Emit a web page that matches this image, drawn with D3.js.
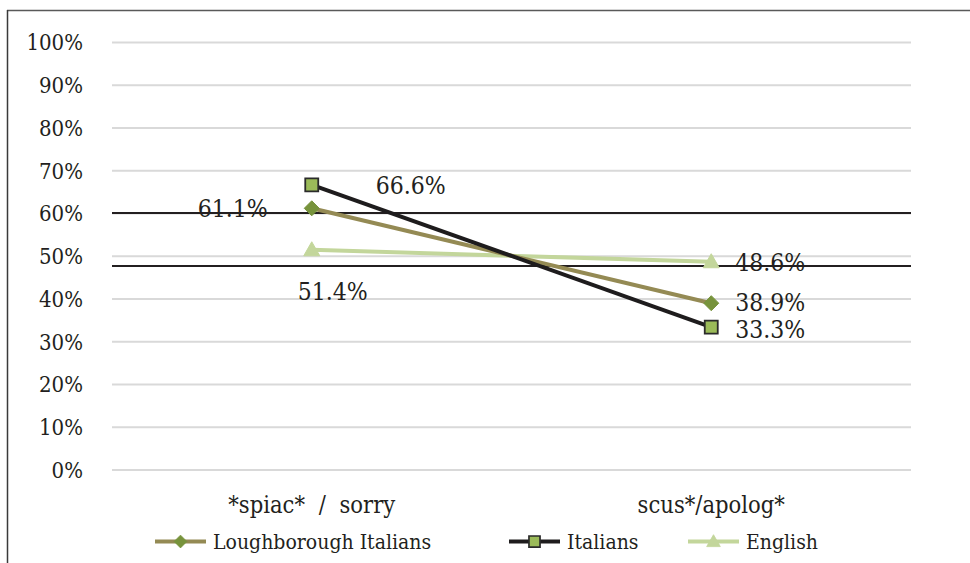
<!DOCTYPE html>
<html><head><meta charset="utf-8">
<script src="https://cdn.jsdelivr.net/npm/d3@7"></script>
<style>
html,body{margin:0;padding:0;background:#fff;}
svg{display:block;}
</style></head>
<body>
<svg id="chart" width="970" height="563"></svg>
<script>
// ---- data ----
const categories = ["*spiac* / sorry", "scus*/apolog*"];
const seriesNames = ["Loughborough Italians", "Italians", "English"];
const loughboroughItalians = [61.1, 38.9];
const italians = [66.6, 33.3];
const english = [51.4, 48.6];
const labelTexts = {
  "Loughborough Italians": ["61.1%", "38.9%"],
  "Italians": ["66.6%", "33.3%"],
  "English": ["51.4%", "48.6%"]
};
const yTicks = [0, 10, 20, 30, 40, 50, 60, 70, 80, 90, 100];
const referenceLines = [60, 47.6];

// ---- layout ----
const FONT = '"DejaVu Serif Condensed","DejaVu Serif",serif';
const svg = d3.select("#chart");
function styleText(sel, size) {
  return sel.style("font-family", FONT).style("font-stretch", "condensed")
    .attr("font-size", size).attr("fill", "#231f20");
}
const plot = {left: 112, right: 911, top: 42, bottom: 469.5};
const x = d3.scaleBand().domain(categories).range([plot.left, plot.right]).padding(0);
const cx = c => x(c) + x.bandwidth() / 2;
const y = d3.scaleLinear().domain([0, 100]).range([plot.bottom, plot.top]);

// frame (top & left, clipped)
svg.append("line").attr("x1", 7).attr("x2", 970).attr("y1", 10.5).attr("y2", 10.5)
  .attr("stroke", "#595959").attr("stroke-width", 1.5);
svg.append("line").attr("x1", 7.5).attr("x2", 7.5).attr("y1", 10).attr("y2", 563)
  .attr("stroke", "#3a3a3a").attr("stroke-width", 1.5);

// gridlines + y tick labels
const yAxis = d3.axisLeft(y).tickValues(yTicks).tickSize(-(plot.right - plot.left))
  .tickFormat(d => d + "%").tickPadding(29);
const gAxis = svg.append("g").attr("transform", `translate(${plot.left},0)`).call(yAxis);
gAxis.select(".domain").remove();
gAxis.selectAll(".tick line").attr("stroke", "#d9d9d9").attr("stroke-width", 2);
styleText(gAxis.selectAll(".tick text"), 22).attr("dy", "0.36em");

// reference black lines
svg.selectAll(".ref").data(referenceLines).enter().append("line")
  .attr("x1", plot.left).attr("x2", plot.right)
  .attr("y1", d => y(d)).attr("y2", d => y(d))
  .attr("stroke", "#231f20").attr("stroke-width", 2);

// category labels
styleText(svg.selectAll(".cat").data(categories).enter().append("text")
  .attr("x", d => cx(d)).attr("y", 513).attr("text-anchor", "middle")
  .attr("word-spacing", 7)
  .text(d => d), 23.5);

// series
const series = [
  {name: "Loughborough Italians", values: loughboroughItalians, line: "#948a54", marker: "diamond", mfill: "#77933c", mstroke: "#77933c"},
  {name: "Italians", values: italians, line: "#1e1c1d", marker: "square", mfill: "#9bbb59", mstroke: "#2b2b2b"},
  {name: "English", values: english, line: "#c3d69b", marker: "triangle", mfill: "#c3d69b", mstroke: "#c3d69b"}
];
const lineGen = d3.line().x((d, i) => cx(categories[i])).y(d => y(d));

function markerPath(type) {
  if (type === "diamond") return "M0,-7.5L7.5,0L0,7.5L-7.5,0Z";
  if (type === "square") return "M-6.5,-6.5H6.5V6.5H-6.5Z";
  return "M0,-8L8,6H-8Z";
}

const order = ["English", "Loughborough Italians", "Italians"];
order.forEach(n => {
  const s = series.find(d => d.name === n);
  svg.append("path").datum(s.values).attr("d", lineGen)
    .attr("fill", "none").attr("stroke", s.line).attr("stroke-width", 4);
});
order.forEach(n => {
  const s = series.find(d => d.name === n);
  s.values.forEach((v, i) => {
    svg.append("path").attr("d", markerPath(s.marker))
      .attr("transform", `translate(${cx(categories[i])},${y(v)})`)
      .attr("fill", s.mfill).attr("stroke", s.mstroke)
      .attr("stroke-width", s.marker === "square" ? 1.8 : 1);
  });
});

// data labels: placement and small vertical nudges
const labelPlacement = {
  "Loughborough Italians": [["left", 0], ["right", -1]],
  "Italians": [["right", 0], ["right", 1.5]],
  "English": [["below", 0], ["right", 0]]
};
series.forEach(s => {
  s.values.forEach((v, i) => {
    const [p, dy] = labelPlacement[s.name][i];
    const px = cx(categories[i]), py = y(v) + dy;
    const t = styleText(svg.append("text").text(labelTexts[s.name][i]), 24.5);
    if (p === "left") t.attr("x", px - 44).attr("y", py + 9).attr("text-anchor", "end");
    else if (p === "right") t.attr("x", px + (i === 0 ? 64 : 24)).attr("y", py + 9).attr("text-anchor", "start");
    else t.attr("x", px + 21).attr("y", py + 50).attr("text-anchor", "middle");
  });
});

// legend
const legendItems = [
  {s: series[0], x: 155},
  {s: series[1], x: 509},
  {s: series[2], x: 688}
];
const ly = 541.5;
legendItems.forEach(li => {
  const g = svg.append("g");
  g.append("line").attr("x1", li.x).attr("x2", li.x + 51).attr("y1", ly).attr("y2", ly)
    .attr("stroke", li.s.line).attr("stroke-width", 4);
  g.append("path").attr("d", markerPath(li.s.marker))
    .attr("transform", `translate(${li.x + 25.5},${ly}) scale(0.85)`)
    .attr("fill", li.s.mfill).attr("stroke", li.s.mstroke)
    .attr("stroke-width", li.s.marker === "square" ? 2 : 1);
  styleText(g.append("text").attr("x", li.x + 58).attr("y", ly + 7.5)
    .text(li.s.name), 21);
});
</script>
</body></html>
